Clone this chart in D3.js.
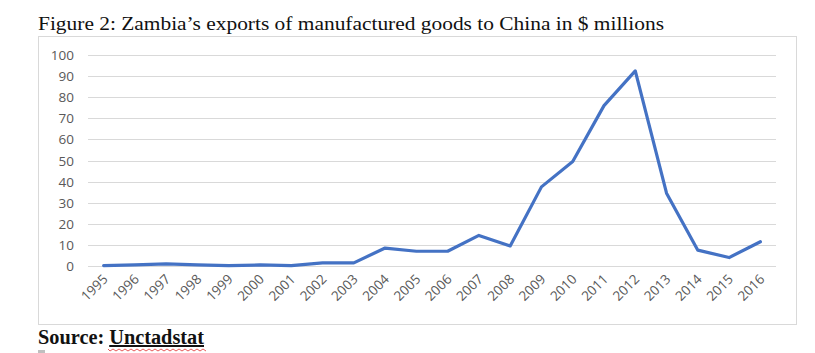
<!DOCTYPE html>
<html>
<head>
<meta charset="utf-8">
<script src="https://cdn.jsdelivr.net/npm/d3@7"></script>
<style>
  body { margin: 0; background: #fff; }
  svg { display: block; }
</style>
</head>
<body>
<svg id="chart" width="815" height="353"></svg>
<script>
const years = ["1995","1996","1997","1998","1999","2000","2001","2002","2003","2004","2005",
               "2006","2007","2008","2009","2010","2011","2012","2013","2014","2015","2016"];
const exports = [0.2, 0.5, 1, 0.5, 0.2, 0.5, 0.2, 1.5, 1.5, 8.5, 7,
                 7, 14.5, 9.5, 37.5, 49.5, 76, 92.5, 34.5, 7.5, 4, 11.5];
const yTicks = [0, 10, 20, 30, 40, 50, 60, 70, 80, 90, 100];

const svg = d3.select("#chart");

// title
svg.append("text")
  .attr("x", 38).attr("y", 30)
  .attr("font-family", "Liberation Serif, serif")
  .attr("font-size", 19)
  .attr("fill", "#111")
  .attr("textLength", 626)
  .attr("lengthAdjust", "spacingAndGlyphs")
  .text("Figure 2: Zambia\u2019s exports of manufactured goods to China in $ millions");

// chart area frame
svg.append("rect")
  .attr("x", 38.5).attr("y", 36.5)
  .attr("width", 758).attr("height", 288)
  .attr("fill", "#fff")
  .attr("stroke", "#d9d9d9");

const x = d3.scaleBand().domain(years).range([88, 776]);
const y = d3.scaleLinear().domain([0, 100]).range([266, 55]);

// gridlines
svg.append("g")
  .selectAll("line")
  .data(yTicks)
  .join("line")
  .attr("x1", 88).attr("x2", 776)
  .attr("y1", d => Math.round(y(d)) + 0.5)
  .attr("y2", d => Math.round(y(d)) + 0.5)
  .attr("stroke", "#d9d9d9");

// y axis labels
svg.append("g")
  .selectAll("text")
  .data(yTicks)
  .join("text")
  .attr("x", 74)
  .attr("y", d => y(d) + 5)
  .attr("text-anchor", "end")
  .attr("font-family", "Open Sans, sans-serif")
  .attr("font-size", 13.5)
  .attr("fill", "#595959")
  .text(d => d);

// x axis labels, rotated
svg.append("g")
  .selectAll("text")
  .data(years)
  .join("text")
  .attr("transform", d => `translate(${x(d) + x.bandwidth() / 2 + 5},${280}) rotate(-45)`)
  .attr("text-anchor", "end")
  .attr("font-family", "Open Sans, sans-serif")
  .attr("font-size", 13.5)
  .attr("fill", "#595959")
  .text(d => d);

// the series line
const line = d3.line()
  .x((d, i) => x(years[i]) + x.bandwidth() / 2)
  .y(d => y(d));

svg.append("path")
  .datum(exports)
  .attr("d", line)
  .attr("fill", "none")
  .attr("stroke", "#4472c4")
  .attr("stroke-width", 3.2)
  .attr("stroke-linejoin", "round")
  .attr("stroke-linecap", "round");

// source note
const src = svg.append("text")
  .attr("x", 38).attr("y", 344)
  .attr("font-family", "Liberation Serif, serif")
  .attr("font-size", 20)
  .attr("font-weight", "bold")
  .attr("fill", "#111")
  .attr("textLength", 166)
  .attr("lengthAdjust", "spacingAndGlyphs");
src.append("tspan").text("Source: ");
src.append("tspan").attr("text-decoration", "underline").text("Unctadstat");

// spell-check squiggle under "Unctadstat"
const sq = d3.path();
sq.moveTo(108, 349);
for (let i = 0; i < 33; i++) sq.lineTo(110 + i * 3, i % 2 ? 349 : 351);
svg.append("path")
  .attr("d", sq.toString())
  .attr("fill", "none")
  .attr("stroke", "#e03030")
  .attr("stroke-width", 0.8);

svg.append("rect")
  .attr("x", 38).attr("y", 350)
  .attr("width", 7).attr("height", 3)
  .attr("fill", "#bfbfbf");
</script>
</body>
</html>
